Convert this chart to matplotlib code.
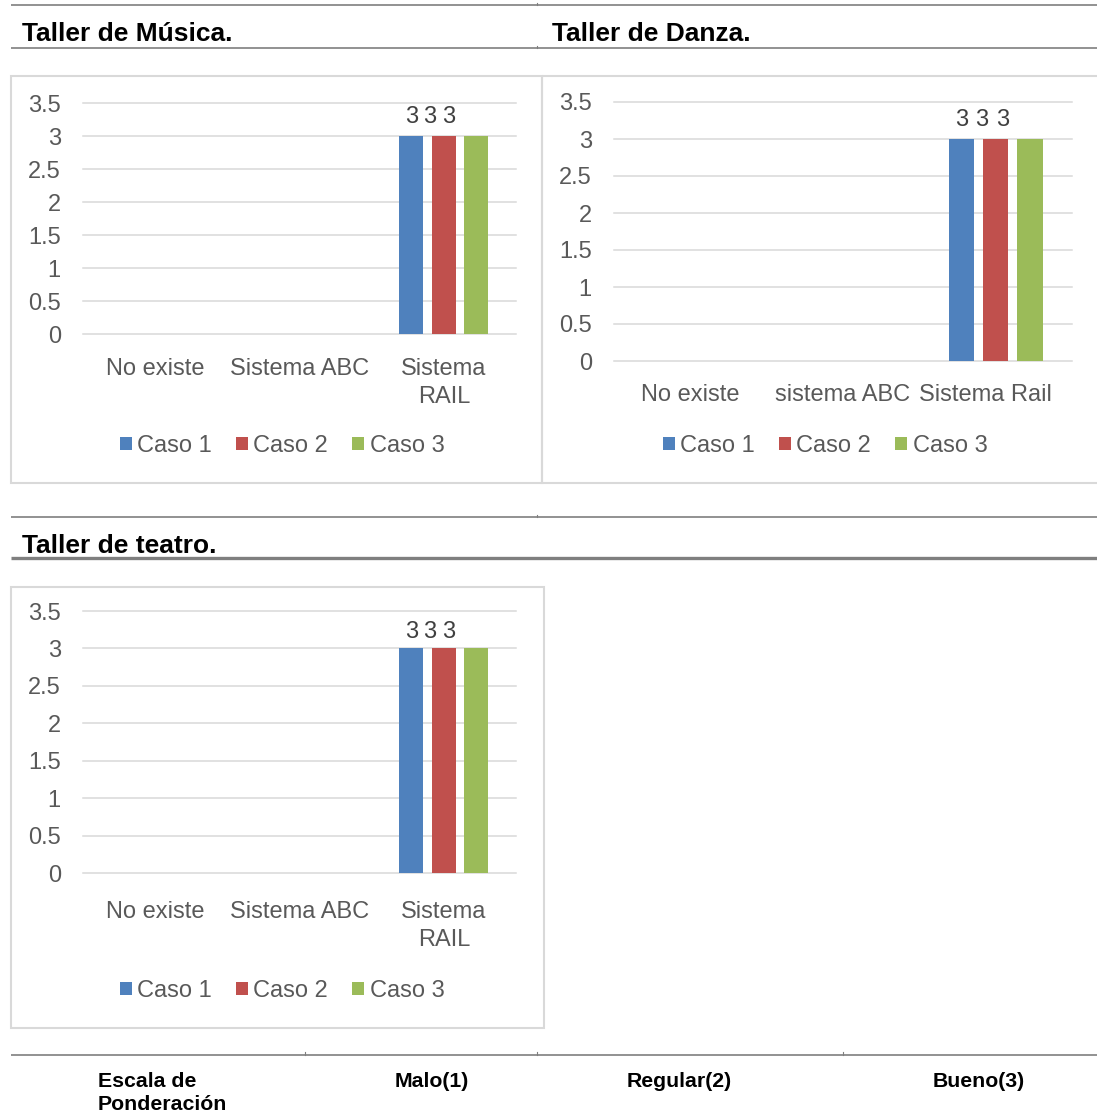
import matplotlib
matplotlib.use("Agg")
import matplotlib.pyplot as plt
from matplotlib.patches import Rectangle
from matplotlib.ticker import FuncFormatter
import matplotlib.transforms as mtransforms
import numpy as np

plt.rcParams['font.family'] = ['Liberation Sans', 'DejaVu Sans']

# data
series = ['Caso 1', 'Caso 2', 'Caso 3']
colors = ['#4F81BD', '#C0504D', '#9BBB59']
cats_musica = ['No existe', 'Sistema ABC', 'Sistema\nRAIL']
cats_danza = ['No existe', 'sistema ABC', 'Sistema Rail']
cats_teatro = ['No existe', 'Sistema ABC', 'Sistema\nRAIL']
musica = [[0, 0, 3], [0, 0, 3], [0, 0, 3]]
danza = [[0, 0, 3], [0, 0, 3], [0, 0, 3]]
teatro = [[0, 0, 3], [0, 0, 3], [0, 0, 3]]
yticks = [0, 0.5, 1, 1.5, 2, 2.5, 3, 3.5]
escala = ['Escala de\nPonderación', 'Malo(1)', 'Regular(2)', 'Bueno(3)']

W, H = 1097, 1114
fig = plt.figure(figsize=(W / 100, H / 100), dpi=100)

# background layer in pixel coordinates for rules, boxes and headings
bg = fig.add_axes([0, 0, 1, 1])
bg.set_xlim(0, W)
bg.set_ylim(H, 0)
bg.axis('off')

rule = '#7f7f7f'
for y, lw in [(5, 1.2), (48, 1.2), (517, 1.2), (558, 2.4), (1055, 1.2)]:
    bg.plot([11, W], [y, y], color=rule, lw=lw, solid_capstyle='butt')
for x in [537]:
    bg.plot([x, x], [3, 5], color=rule, lw=0.8)
    bg.plot([x, x], [46, 48], color=rule, lw=0.8)
    bg.plot([x, x], [515, 517], color=rule, lw=0.8)
for x in [305, 537, 843]:
    bg.plot([x, x], [1052, 1055], color=rule, lw=0.8)

box = '#d9d9d9'
for x0, y0, x1, y1 in [(11, 76, 542, 483), (542, 76, 1100, 483), (11, 587, 544, 1028)]:
    bg.add_patch(Rectangle((x0, y0), x1 - x0, y1 - y0, fill=False, ec=box, lw=1.5))

title_kw = dict(fontsize=19, fontweight='bold', color='black', va='center', ha='left')
bg.text(22, 34, 'Taller de Música.', **title_kw)
bg.text(552, 34, 'Taller de Danza.', **title_kw)
bg.text(22, 546, 'Taller de teatro.', **title_kw)

for x, s in zip([98, 395, 627, 933], escala):
    bg.text(x, 1072, s, fontsize=15.3, fontweight='bold', color='black',
            va='top', ha='left', linespacing=1.26)


def px_axes(x0, y_top, x1, y_bot):
    return fig.add_axes([x0 / W, 1 - y_bot / H, (x1 - x0) / W, (y_bot - y_top) / H])


def bar_chart(rect, cats, vals, legend_xy, xpad, label_pad, last_shift=0):
    ax = px_axes(*rect)
    x = np.arange(len(cats))
    bars = []
    for i, (name, v) in enumerate(zip(series, vals)):
        xs = x + (i - 1) * 0.225
        b = ax.bar(xs, v, width=0.167, color=colors[i], label=name, zorder=2)
        bars.append(b)
        # Excel packs the value labels together, starting over the first bar
        for xi, val in zip(xs, v):
            if val:
                ax.annotate(f'{val:g}', (xi, val), xytext=(-10 * i, label_pad),
                            textcoords='offset points', ha='center', va='bottom',
                            fontsize=17, color='#404040')
    ax.set_xlim(-0.5, len(cats) - 0.5)
    ax.set_ylim(0, 3.5)
    ax.set_yticks(yticks)
    ax.yaxis.set_major_formatter(FuncFormatter(lambda v, p: f'{v:g}'))
    ax.set_xticks(x)
    ax.set_xticklabels(cats, linespacing=1.32)
    ax.tick_params(axis='y', length=0, pad=16, labelsize=17, labelcolor='#595959')
    ax.tick_params(axis='x', length=0, pad=xpad, labelsize=17, labelcolor='#595959')
    if last_shift:
        lab = ax.get_xticklabels()[-1]
        lab.set_transform(lab.get_transform() +
                          mtransforms.ScaledTranslation(last_shift / 100, 0, fig.dpi_scale_trans))
    ax.yaxis.grid(True, color='#d9d9d9', lw=1.1, clip_on=False)
    ax.set_axisbelow(True)
    for s in ax.spines.values():
        s.set_visible(False)
    ax.patch.set_alpha(0)
    ax.legend(bars, series, loc='center', bbox_to_anchor=(legend_xy[0] / W, 1 - legend_xy[1] / H),
              bbox_transform=fig.transFigure, ncol=3, frameon=False, fontsize=17,
              handlelength=0.5, handleheight=0.5, handletextpad=0.25, columnspacing=1.0,
              labelcolor='#595959', borderpad=0)
    return ax


bar_chart((83, 103, 516, 334), cats_musica, musica, (282, 446), 17.5, 6)
bar_chart((614, 102, 1072, 361), cats_danza, danza, (825, 446), 16.5, 6, last_shift=-10)
bar_chart((83, 611, 516, 873), cats_teatro, teatro, (282, 991), 20.5, 4)

fig.savefig('out.png', dpi=100)
